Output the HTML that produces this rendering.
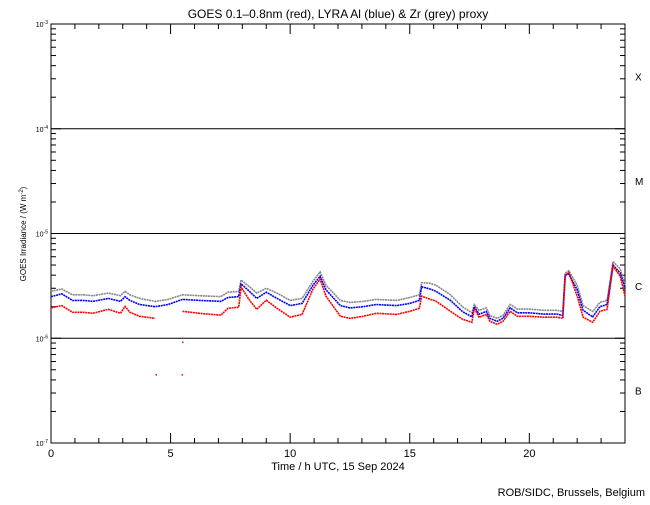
<!DOCTYPE html>
<html><head><meta charset="utf-8"><style>
body{margin:0;background:#fff}
svg text{font-family:"Liberation Sans",sans-serif;fill:#000}
</style></head><body>
<svg id="chart" width="650" height="500" xmlns="http://www.w3.org/2000/svg">
<rect width="650" height="500" fill="#fff"/>
<text x="338" y="18" font-size="12" text-anchor="middle">GOES 0.1–0.8nm (red), LYRA Al (blue) &amp; Zr (grey) proxy</text>
<g id="axes"></g>
<g id="series"></g>
<text x="338" y="470" font-size="11" text-anchor="middle">Time / h UTC, 15 Sep 2024</text>
<text transform="translate(26,234) rotate(-90)" font-size="8" text-anchor="middle">GOES Irradiance / (W m<tspan dy="-3" font-size="6">-2</tspan><tspan dy="3">)</tspan></text>
<text x="645" y="496" font-size="11" text-anchor="end">ROB/SIDC, Brussels, Belgium</text>
</svg>
<script>
const times=[0,0.45,0.9,1.35,1.75,2.4,2.9,3.1,3.3,3.7,4.35,4.9,5.5,6.2,7.1,7.4,7.85,7.95,8.3,8.6,9.0,9.45,10,10.5,10.95,11.25,11.5,12.1,12.5,13.05,13.6,14.45,15,15.4,15.5,15.85,16.1,16.7,17.2,17.6,17.7,17.9,18.2,18.35,18.65,18.9,19.2,19.5,20,20.6,21.15,21.4,21.5,21.65,22,22.25,22.65,22.95,23.25,23.5,23.8,24];
const red=[1.95,2.05,1.77,1.77,1.73,1.89,1.73,2.02,1.77,1.62,1.55,null,1.81,1.73,1.66,1.93,1.98,3.07,2.31,1.89,2.31,1.93,1.59,1.69,2.94,3.66,2.52,1.62,1.55,1.62,1.73,1.69,1.81,1.93,2.52,2.36,2.26,1.81,1.52,1.42,1.93,1.59,1.69,1.45,1.36,1.45,1.81,1.62,1.62,1.59,1.59,1.55,3.91,4.27,2.52,1.59,1.42,1.81,1.89,4.87,3.91,2.52];
const blue=[2.5,2.65,2.3,2.3,2.25,2.4,2.25,2.5,2.3,2.1,2.0,2.1,2.35,2.3,2.25,2.45,2.5,3.3,2.8,2.4,2.75,2.4,2.05,2.15,3.2,3.9,2.9,2.05,1.95,2.0,2.1,2.05,2.15,2.3,3.1,2.95,2.8,2.3,1.8,1.6,2.0,1.7,1.8,1.55,1.45,1.55,1.95,1.75,1.75,1.7,1.7,1.65,4.0,4.1,2.9,1.85,1.6,2.0,2.1,5.0,4.2,3.0];
const grey=[2.8,2.95,2.6,2.6,2.55,2.7,2.55,2.8,2.6,2.4,2.25,2.35,2.6,2.55,2.5,2.75,2.8,3.6,3.1,2.7,3.0,2.7,2.3,2.4,3.5,4.3,3.2,2.3,2.2,2.25,2.35,2.3,2.45,2.6,3.4,3.35,3.2,2.6,2.0,1.75,2.1,1.85,1.95,1.65,1.55,1.65,2.1,1.9,1.9,1.85,1.85,1.8,4.2,4.4,3.2,2.05,1.8,2.2,2.3,5.4,4.6,3.2];
const outlierTimes=[4.39,5.48,5.5];
const outlierVals=[0.45,0.45,0.92];
const xTicks=[0,5,10,15,20];
const yDecades=[-3,-4,-5,-6,-7];
const classLabels=["X","M","C","B"];

const X0=51,X1=625,Y0=24,Y1=443;
const xs=h=>X0+(h/24)*(X1-X0);
const ys=v=>Y0+(-3-Math.log10(v*1e-6))*(Y1-Y0)/4;
const NS="http://www.w3.org/2000/svg";
const axes=document.getElementById('axes'),ser=document.getElementById('series');
function mk(t,a,p){const e=document.createElementNS(NS,t);for(const k in a)e.setAttribute(k,a[k]);p.appendChild(e);return e;}
const frame=mk('rect',{x:X0,y:Y0,width:X1-X0,height:Y1-Y0,fill:'none',stroke:'#000','stroke-width':1},axes);


for(let h=0;h<=24;h++){
  const L=(h%5===0)?10:5,x=xs(h);
  mk('line',{x1:x,x2:x,y1:Y1,y2:Y1-L,stroke:'#000'},axes);
  mk('line',{x1:x,x2:x,y1:Y0,y2:Y0+L,stroke:'#000'},axes);
}
xTicks.forEach(t=>{
  const e=mk('text',{x:xs(t),y:Y1+14,'font-size':11,'text-anchor':'middle'},axes);e.textContent=t;
  
  
});
yDecades.forEach((d,i)=>{
  const y=ys(Math.pow(10,d+6));
  const e=mk('text',{x:X0-3,y:y+3,'font-size':7,'text-anchor':'end'},axes);
  e.innerHTML='10<tspan dy="-3" font-size="5">'+d+'</tspan>';
  
  
  mk('line',{x1:X0,x2:X0+10,y1:y,y2:y,stroke:'#000'},axes);
  mk('line',{x1:X1,x2:X1-10,y1:y,y2:y,stroke:'#000'},axes);
  if(i>0&&i<4){const g=mk('line',{x1:X0,x2:X1,y1:y,y2:y,stroke:'#000'},axes);
    
    }
  if(i<4){for(let m=2;m<=9;m++){const yy=ys(m*Math.pow(10,d-1+6));
    mk('line',{x1:X0,x2:X0+5,y1:yy,y2:yy,stroke:'#000'},axes);
    mk('line',{x1:X1,x2:X1-5,y1:yy,y2:yy,stroke:'#000'},axes);}
    const c=mk('text',{x:X1+10,y:(ys(Math.pow(10,d+6))+ys(Math.pow(10,d+5)))/2+4,'font-size':10},axes);
    c.textContent=classLabels[i];
    
    }
});
function line(vals,color,name){
  let d='',pen=false;
  vals.forEach((v,i)=>{if(v==null){pen=false;return;}d+=(pen?'L':'M')+xs(times[i]).toFixed(1)+' '+ys(v).toFixed(1);pen=true;});
  const p=mk('path',{d:d,fill:'none',stroke:color,'stroke-width':1.6,'stroke-dasharray':'2 0.6'},ser);
  
  
}
line(grey,'#888','zr-proxy-series');
line(blue,'#0000ff','al-proxy-series');
line(red,'#ff0000','goes-series');
outlierTimes.forEach((t,i)=>{
  const r=mk('rect',{x:xs(t)-0.5,y:ys(outlierVals[i])-0.5,width:1.5,height:1.5,fill:'#f00'},ser);
  
  
});
</script>
</body></html>
